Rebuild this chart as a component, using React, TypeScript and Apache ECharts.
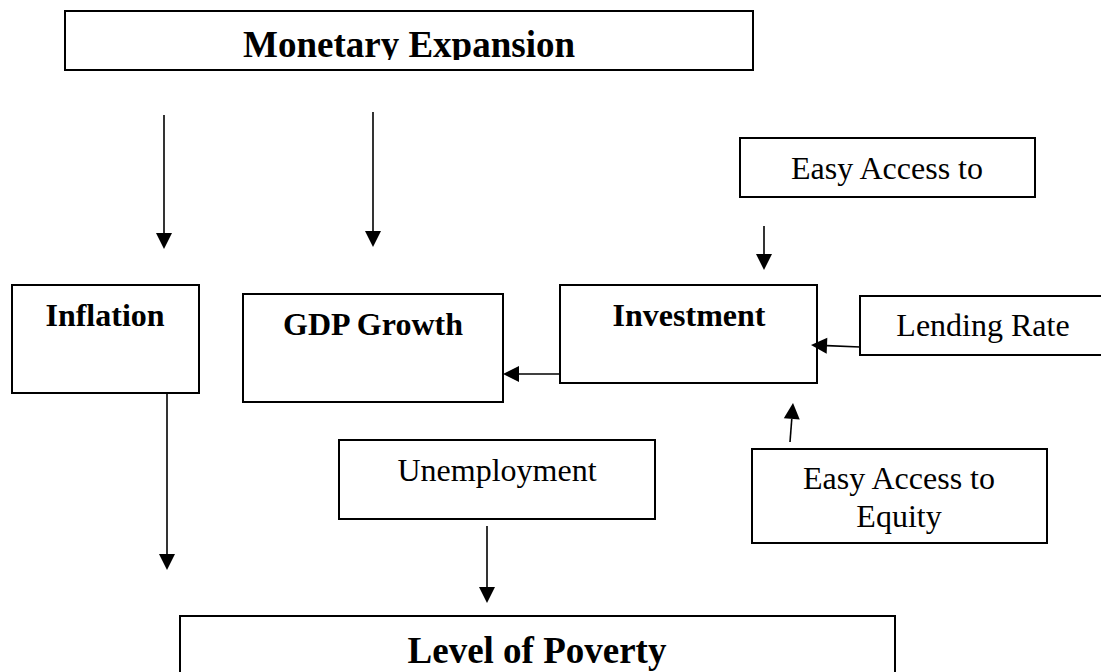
import React, { useEffect, useRef } from "react";
import * as echarts from "echarts";

// ---- Diagram content ----
const nodeLabels = [
  "Monetary Expansion",
  "Inflation",
  "GDP Growth",
  "Investment",
  "Easy Access to",
  "Lending Rate",
  "Unemployment",
  "Easy Access to\nEquity",
  "Level of Poverty",
];
const nodeBold = [true, true, true, true, false, false, false, false, true];

// links: [from node index, to node index]
const links: [number, number][] = [
  [0, 1],
  [0, 2],
  [4, 3],
  [3, 2],
  [5, 3],
  [7, 3],
  [1, 8],
  [6, 8],
];

// ---- Layout (pixels) ----
// box: [x, y, w, h]
const boxLayout: number[][] = [
  [65, 11, 688, 59],
  [12, 285, 187, 108],
  [243, 294, 260, 108],
  [560, 285, 257, 98],
  [740, 138, 295, 59],
  [860, 296, 270, 59],
  [339, 440, 316, 79],
  [752, 449, 295, 94],
  [180, 616, 715, 90],
];
// text centre: [cx, cy, fontSize]
const textLayout: number[][] = [
  [409, 44, 37],
  [105, 315, 32],
  [373, 324, 32],
  [689, 315, 32],
  [887, 168, 32],
  [983, 325, 32],
  [497, 470, 32],
  [899, 497, 32],
  [537, 650, 37],
];
// arrow: [x1, y1, x2 (tip), y2 (tip)]
const arrowLayout: number[][] = [
  [164, 115, 164, 249],
  [373, 112, 373, 247],
  [764, 226, 764, 270],
  [560, 374, 503, 374],
  [860, 347, 811, 345],
  [790, 442, 793, 403],
  [167, 393, 167, 570],
  [487, 526, 487, 603],
];

const FONT = "Liberation Serif";

function buildGraphics() {
  const els: any[] = [];
  els.push({
    type: "rect",
    shape: { x: 0, y: 0, width: 1101, height: 672 },
    style: { fill: "#ffffff" },
    silent: true,
  });
  nodeLabels.forEach((label, i) => {
    const [tx, ty, fs] = textLayout[i];
    els.push({
      type: "text",
      x: tx,
      y: ty,
      style: {
        text: label,
        fill: "#000000",
        fontFamily: FONT,
        fontSize: fs,
        fontWeight: nodeBold[i] ? "bold" : "normal",
        align: "center",
        verticalAlign: "middle",
        lineHeight: 38,
      },
      z: 10,
    });
  });
  // the top title is clipped at its bottom in the reference
  els.push({
    type: "rect",
    shape: { x: 67, y: 60, width: 684, height: 9 },
    style: { fill: "#ffffff" },
    z: 11,
  });
  boxLayout.forEach((b) => {
    els.push({
      type: "rect",
      shape: { x: b[0], y: b[1], width: b[2], height: b[3] },
      style: { fill: "none", stroke: "#000000", lineWidth: 2 },
      z: 12,
    });
  });
  links.forEach((_, i) => {
    const [x1, y1, x2, y2] = arrowLayout[i];
    const dx = x2 - x1;
    const dy = y2 - y1;
    const len = Math.sqrt(dx * dx + dy * dy);
    const ux = dx / len;
    const uy = dy / len;
    const headL = 16;
    const headW = 8;
    const bx = x2 - ux * headL;
    const by = y2 - uy * headL;
    els.push({
      type: "line",
      shape: { x1, y1, x2: bx, y2: by },
      style: { stroke: "#000000", lineWidth: 1.6 },
      z: 12,
    });
    els.push({
      type: "polygon",
      shape: {
        points: [
          [x2, y2],
          [bx - uy * headW, by + ux * headW],
          [bx + uy * headW, by - ux * headW],
        ],
      },
      style: { fill: "#000000" },
      z: 12,
    });
  });
  return els;
}

export default function App() {
  const ref = useRef<HTMLDivElement>(null);
  useEffect(() => {
    if (!ref.current) return;
    const chart = echarts.init(ref.current, null, { renderer: "svg" });
    chart.setOption({
      animation: false,
      backgroundColor: "#ffffff",
      graphic: { elements: buildGraphics() },
    });
    return () => chart.dispose();
  }, []);
  return (
    <div
      ref={ref}
      style={{ position: "absolute", left: 0, top: 0, width: 1101, height: 672 }}
    />
  );
}
